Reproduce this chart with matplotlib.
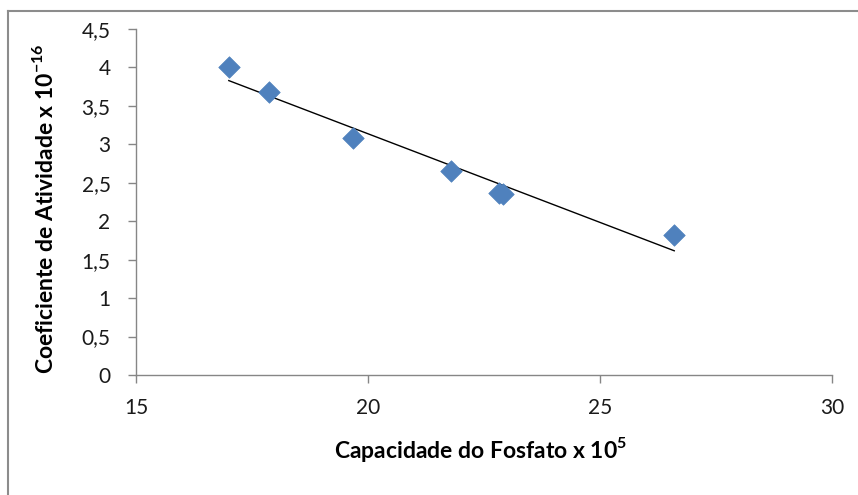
import numpy as np
import matplotlib
matplotlib.use("Agg")
import matplotlib.pyplot as plt
from matplotlib.ticker import FuncFormatter

plt.rcParams["font.family"] = ["Lato", "DejaVu Sans"]
plt.rcParams["mathtext.fontset"] = "custom"
plt.rcParams["mathtext.rm"] = "Lato"
plt.rcParams["mathtext.bf"] = "Lato:bold"

# Phosphate capacity (x 10^5) vs activity coefficient (x 10^-16)
capacidade = [17.0, 17.87, 19.68, 21.79, 22.82, 22.92, 26.60]
coeficiente = [4.00, 3.68, 3.08, 2.65, 2.37, 2.36, 1.82]

x_ticks = [15, 20, 25, 30]
y_ticks = [0, 0.5, 1, 1.5, 2, 2.5, 3, 3.5, 4, 4.5]

W, H = 858, 495
fig = plt.figure(figsize=(W / 100, H / 100), dpi=100)
fig.patch.set_facecolor("white")

# chart-area frame (top and left edges)
frame_col = "#8c8c8c"
fig.add_artist(plt.Line2D([8 / W, 8 / W], [0, 1 - 11 / H], transform=fig.transFigure,
                          color=frame_col, lw=1.5))
fig.add_artist(plt.Line2D([8 / W, 1], [1 - 11 / H, 1 - 11 / H], transform=fig.transFigure,
                          color=frame_col, lw=1.5))

ax = fig.add_axes([136 / W, 1 - 375 / H, (832 - 136) / W, (375 - 29) / H])

ax.scatter(capacidade, coeficiente, marker="D", s=120, color="#4F81BD",
           edgecolors="#4F81BD", linewidths=0.5, zorder=3)

# linear trendline over the data range
xs = np.array(capacidade)
ys = np.array(coeficiente)
m, b = np.polyfit(xs, ys, 1)
xl = np.array([xs.min(), xs.max()])
ax.plot(xl, m * xl + b, color="black", lw=1.0, zorder=2)

ax.set_xlim(x_ticks[0], x_ticks[-1])
ax.set_ylim(y_ticks[0], y_ticks[-1])
ax.set_xticks(x_ticks)
ax.set_yticks(y_ticks)
fmt = FuncFormatter(lambda v, p: ("%g" % v).replace(".", ","))
ax.xaxis.set_major_formatter(fmt)
ax.yaxis.set_major_formatter(fmt)

for side in ("top", "right"):
    ax.spines[side].set_visible(False)
for side in ("left", "bottom"):
    ax.spines[side].set_color("#868686")
    ax.spines[side].set_linewidth(1.0)
ax.tick_params(axis="both", direction="out", length=5.8, width=1.0, color="#868686",
               labelsize=15, labelcolor="#1a1a1a")
ax.tick_params(axis="x", pad=11)
ax.tick_params(axis="y", pad=12.5)

fig.text(481 / W, 1 - 458 / H, r"Capacidade do Fosfato x 10$^{\mathbf{5}}$",
         fontsize=16.5, fontweight="bold", ha="center", va="baseline")
fig.text(53 / W, 1 - 209 / H, r"Coeficiente de Atividade x 10$^{\mathbf{-16}}$",
         fontsize=16.5, fontweight="bold", ha="center", va="baseline",
         rotation=90, rotation_mode="anchor")

fig.savefig("out.png", dpi=100, facecolor="white")
